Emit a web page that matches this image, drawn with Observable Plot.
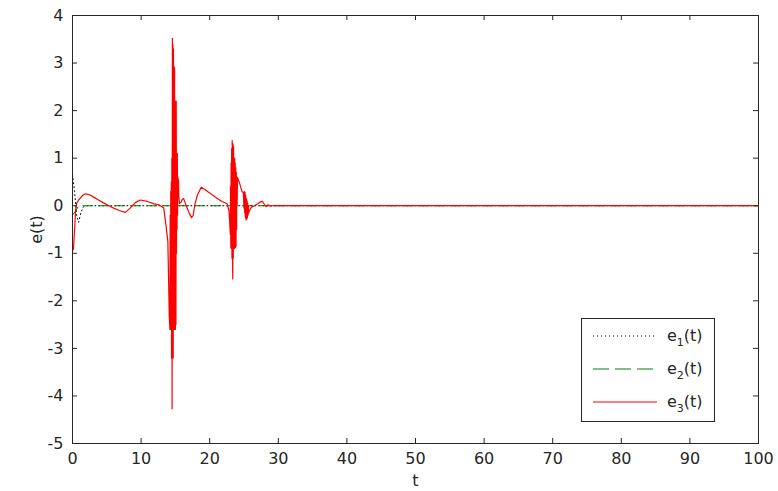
<!DOCTYPE html>
<html>
<head>
<meta charset="utf-8">
<script src="https://cdn.jsdelivr.net/npm/d3@7"></script>
<script src="https://cdn.jsdelivr.net/npm/@observablehq/plot@0.6"></script>
<style>
  body { margin: 0; background: #fff; }
  #wrap { position: relative; width: 778px; height: 491px; }
  #legend { position: absolute; left: 581px; top: 318px; }
</style>
</head>
<body>
<div id="wrap"><div id="chart"></div><div id="legend"></div></div>
<script>
const xTicks = [0, 10, 20, 30, 40, 50, 60, 70, 80, 90, 100];
const yTicks = [-5, -4, -3, -2, -1, 0, 1, 2, 3, 4];
const seriesNames = ["e1", "e2", "e3"];

const t1 = [0, 0.3, 0.6, 0.9, 1.2, 1.6, 2.2, 100];
const e1 = [0.65, 0.3, -0.2, -0.35, -0.15, -0.02, 0, 0];

const t2 = [0, 0.5, 1.0, 1.5, 100];
const e2 = [-0.2, -0.1, 0.02, 0, 0];

const t3 = [
  0, 0.15, 0.3, 0.45, 0.6, 0.9, 1.2, 1.5, 1.9, 2.5, 3.2, 3.8, 4.5, 5.3, 6.0, 6.8, 7.7, 8.4, 9.2, 9.9,
  10.9, 11.9, 12.6, 13.3, 13.6, 13.9, 14.0, 14.1,
  14.20, 14.24, 14.28, 14.32, 14.36, 14.40, 14.44, 14.48, 14.52, 14.56, 14.60, 14.64, 14.68, 14.72,
  14.76, 14.80, 14.84, 14.88, 14.92, 14.96, 15.00, 15.04, 15.08, 15.12, 15.16, 15.20, 15.24, 15.28,
  15.32, 15.36, 15.40, 15.45, 15.50, 15.60,
  15.8, 16.0, 16.2, 16.7, 17.0, 17.35, 17.6, 17.8, 18.2, 18.76, 19.3, 20.0, 21.1, 21.8, 22.55, 22.8, 22.9,
  23.00, 23.04, 23.08, 23.12, 23.16, 23.20, 23.24, 23.28, 23.32, 23.36, 23.40, 23.44, 23.48, 23.52,
  23.56, 23.60, 23.64, 23.68, 23.72, 23.76, 23.80, 23.84, 23.88, 23.92, 23.96, 24.00, 24.05,
  24.30, 24.50, 24.70, 24.90,
  25.00, 25.05, 25.10, 25.15, 25.20, 25.25, 25.30, 25.35, 25.40, 25.45, 25.50, 25.55, 25.60, 25.65,
  25.70, 25.80, 25.90, 26.10, 26.50, 27.00, 27.40, 27.70, 28.00, 28.20, 28.50, 28.80, 29.20, 100
];
const e3 = [
  -0.95, -0.9, -0.5, -0.1, 0.05, 0.12, 0.17, 0.22, 0.25, 0.23, 0.17, 0.12, 0.06, 0.0, -0.05, -0.1, -0.14, -0.05, 0.07, 0.12,
  0.09, 0.04, 0.02, -0.05, -0.38, -0.75, -1.5, -2.3,
  -2.60, -0.20, -2.60, 0.30, -2.60, 0.50, -3.20, 1.00, -4.27, 3.52, -3.20, 3.40, -3.20, 3.30,
  -2.60, 2.93, -2.60, 2.90, -2.60, 2.20, -2.60, 2.20, -2.50, 2.20, -1.00, 1.10, -0.50, 1.10,
  -0.20, 0.60, 0.30, 0.55, 0.20, 0.05,
  0.07, 0.13, 0.15, -0.05, -0.15, -0.25, -0.2, 0.0, 0.22, 0.39, 0.34, 0.27, 0.15, 0.09, 0.04, -0.1, -0.3,
  -0.60, 0.40, -0.88, 0.90, -0.90, 1.20, -1.10, 1.37, -1.10, -1.54, 1.30, -1.10, 1.25, -0.90,
  1.00, -0.90, 1.00, -0.88, 0.90, -0.88, 0.80, -0.85, 0.70, -0.50, 0.60, 0.00, 0.60,
  0.50, 0.40, 0.30, 0.28,
  -0.05, 0.30, -0.15, 0.28, -0.25, 0.22, -0.30, 0.15, -0.28, 0.10, -0.25, 0.05, -0.20, 0.00,
  -0.15, -0.10, -0.08, -0.03, 0.00, 0.04, 0.08, 0.09, 0.02, -0.02, 0.02, -0.01, 0.00, 0
];

const rows1 = t1.map((t, i) => ({t, e: e1[i]}));
const rows2 = t2.map((t, i) => ({t, e: e2[i]}));
const rows3 = t3.map((t, i) => ({t, e: e3[i]}));

const W = 778, H = 491, mL = 72, mR = 20, mT = 15, mB = 48;
const pw = W - mL - mR, ph = H - mT - mB;
const ink = "#262626";
const fmt = d => String(d);

const chart = Plot.plot({
  width: W, height: H,
  marginLeft: mL, marginRight: mR, marginTop: mT, marginBottom: mB,
  style: {fontFamily: "DejaVu Sans", fontSize: "16px", background: "#fff", color: ink},
  x: {domain: [0, 100]},
  y: {domain: [-5, 4]},
  marks: [
    Plot.line(rows1, {x: "t", y: "e", stroke: "#000", strokeWidth: 1, strokeDasharray: "1,3"}),
    Plot.line(rows2, {x: "t", y: "e", stroke: "#008000", strokeWidth: 1, strokeDasharray: "10,6"}),
    Plot.line(rows3, {x: "t", y: "e", stroke: "#ff0000", strokeWidth: 1.2}),
    Plot.frame({stroke: ink}),
    Plot.ruleX(xTicks, {x: d => d, insetTop: ph - 5, stroke: ink}),
    Plot.ruleX(xTicks, {x: d => d, insetBottom: ph - 5, stroke: ink}),
    Plot.ruleY(yTicks, {y: d => d, insetRight: pw - 5, stroke: ink}),
    Plot.ruleY(yTicks, {y: d => d, insetLeft: pw - 5, stroke: ink}),
    Plot.axisX(xTicks, {anchor: "bottom", tickSize: 0, tickPadding: 9, tickFormat: fmt, label: "t", labelAnchor: "center", labelArrow: "none", labelOffset: 42}),
    Plot.axisY(yTicks, {anchor: "left", tickSize: 0, tickPadding: 9, tickFormat: fmt, label: "e(t)", labelAnchor: "center", labelArrow: "none", labelOffset: 42})
  ]
});
document.getElementById("chart").appendChild(chart);

// legend
const legendItems = [
  {name: "e", sub: "1", color: "#000", dash: "1,3"},
  {name: "e", sub: "2", color: "#008000", dash: "16,6"},
  {name: "e", sub: "3", color: "#ff0000", dash: null}
];
const lw = 134, lh = 104;
const svg = d3.select("#legend").append("svg").attr("width", lw).attr("height", lh)
  .style("font-family", "DejaVu Sans").style("font-size", "16px");
svg.append("rect").attr("x", 0.5).attr("y", 0.5).attr("width", lw - 1).attr("height", lh - 1)
  .attr("fill", "#fff").attr("stroke", ink);
legendItems.forEach((d, i) => {
  const y = 18 + i * 33;
  svg.append("line").attr("x1", 12).attr("x2", 76).attr("y1", y).attr("y2", y)
    .attr("stroke", d.color).attr("stroke-width", 1).attr("stroke-dasharray", d.dash);
  const tx = svg.append("text").attr("x", 86).attr("y", y + 5).attr("fill", ink);
  tx.append("tspan").text(d.name);
  tx.append("tspan").attr("font-size", "11px").attr("dy", 5).text(d.sub);
  tx.append("tspan").attr("dy", -5).text("(t)");
});
</script>
</body>
</html>
